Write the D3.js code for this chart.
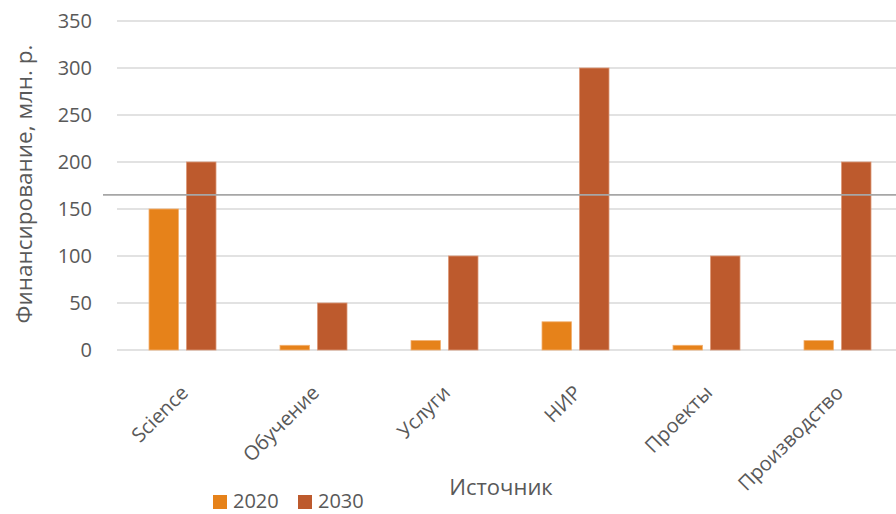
<!DOCTYPE html>
<html>
<head>
<meta charset="utf-8">
<script src="https://cdn.jsdelivr.net/npm/d3@7"></script>
<style>
  body { margin: 0; background: #fff; }
  svg { display: block; font-family: "Open Sans", sans-serif; }
  text { fill: #595959; }
</style>
</head>
<body>
<svg class="chart__svg" width="896" height="514"></svg>
<script>
// chart data
const categories = ['Science', 'Обучение', 'Услуги', 'НИР', 'Проекты', 'Производство'];
const seriesNames = ['2020', '2030'];
const values2020 = [150, 5, 10, 30, 5, 10];
const values2030 = [200, 50, 100, 300, 100, 200];
const yTicks = [0, 50, 100, 150, 200, 250, 300, 350];
const markerValue = 165; // the darker horizontal rule

const colors = ['#e6821a', '#bd5a2d'];
const strokes = ['#f2b070', '#dc9878'];

const svg = d3.select('.chart__svg');

// plot area
const plotLeft = 117, plotRight = 903, plotTop = 21, plotBottom = 350;

const x = d3.scaleBand()
  .domain(categories)
  .range([plotLeft, plotRight]);

const xSub = d3.scaleBand()
  .domain(seriesNames)
  .range([32, 99])
  .paddingInner(0.213);

const y = d3.scaleLinear()
  .domain([0, 350])
  .range([plotBottom, plotTop]);

// gridlines
svg.append('g')
  .selectAll('line')
  .data(yTicks)
  .join('line')
  .attr('x1', plotLeft)
  .attr('x2', 896)
  .attr('y1', d => y(d))
  .attr('y2', d => y(d))
  .attr('stroke', '#d9d9d9')
  .attr('stroke-width', 1.5);

// tick labels
svg.append('g')
  .selectAll('text')
  .data(yTicks)
  .join('text')
  .attr('x', 92)
  .attr('y', d => y(d))
  .attr('dy', '0.36em')
  .attr('text-anchor', 'end')
  .style('font-size', '20px')
  .text(d => d);

// bars
const rows = categories.map((c, i) => ({ cat: c, vals: [values2020[i], values2030[i]] }));

const groups = svg.append('g')
  .selectAll('g')
  .data(rows)
  .join('g')
  .attr('transform', d => `translate(${x(d.cat)},0)`);

groups.selectAll('rect')
  .data(d => d.vals.map((v, k) => ({ key: seriesNames[k], k, v })))
  .join('rect')
  .attr('x', d => xSub(d.key))
  .attr('width', xSub.bandwidth())
  .attr('y', d => y(d.v))
  .attr('height', d => y(0) - y(d.v))
  .attr('fill', d => colors[d.k])
  .attr('stroke', d => strokes[d.k])
  .attr('stroke-width', 0.8);

// darker horizontal rule
svg.append('line')
  .attr('x1', 103)
  .attr('x2', 896)
  .attr('y1', y(markerValue))
  .attr('y2', y(markerValue))
  .attr('stroke', '#a6a6a6')
  .attr('stroke-width', 1.6);

// category labels, rotated
svg.append('g')
  .selectAll('text')
  .data(categories)
  .join('text')
  .attr('transform', d => `translate(${x(d) + x.bandwidth() / 2 + 7},394) rotate(-45)`)
  .attr('text-anchor', 'end')
  .style('font-size', '20px')
  .text(d => d);

// axis titles
svg.append('text')
  .attr('transform', 'translate(32,184) rotate(-90)')
  .attr('text-anchor', 'middle')
  .style('font-size', '22.5px')
  .text('Финансирование, млн. р.');

svg.append('text')
  .attr('x', 501)
  .attr('y', 495)
  .attr('text-anchor', 'middle')
  .style('font-size', '22px')
  .text('Источник');

// legend
const legendX = [213, 298];
const legend = svg.append('g')
  .selectAll('g')
  .data(seriesNames)
  .join('g')
  .attr('transform', (d, i) => `translate(${legendX[i]},495)`);

legend.append('rect')
  .attr('width', 14)
  .attr('height', 14)
  .attr('fill', (d, i) => colors[i]);

legend.append('text')
  .attr('x', 20)
  .attr('y', 13)
  .style('font-size', '20px')
  .text(d => d);
</script>
</body>
</html>
